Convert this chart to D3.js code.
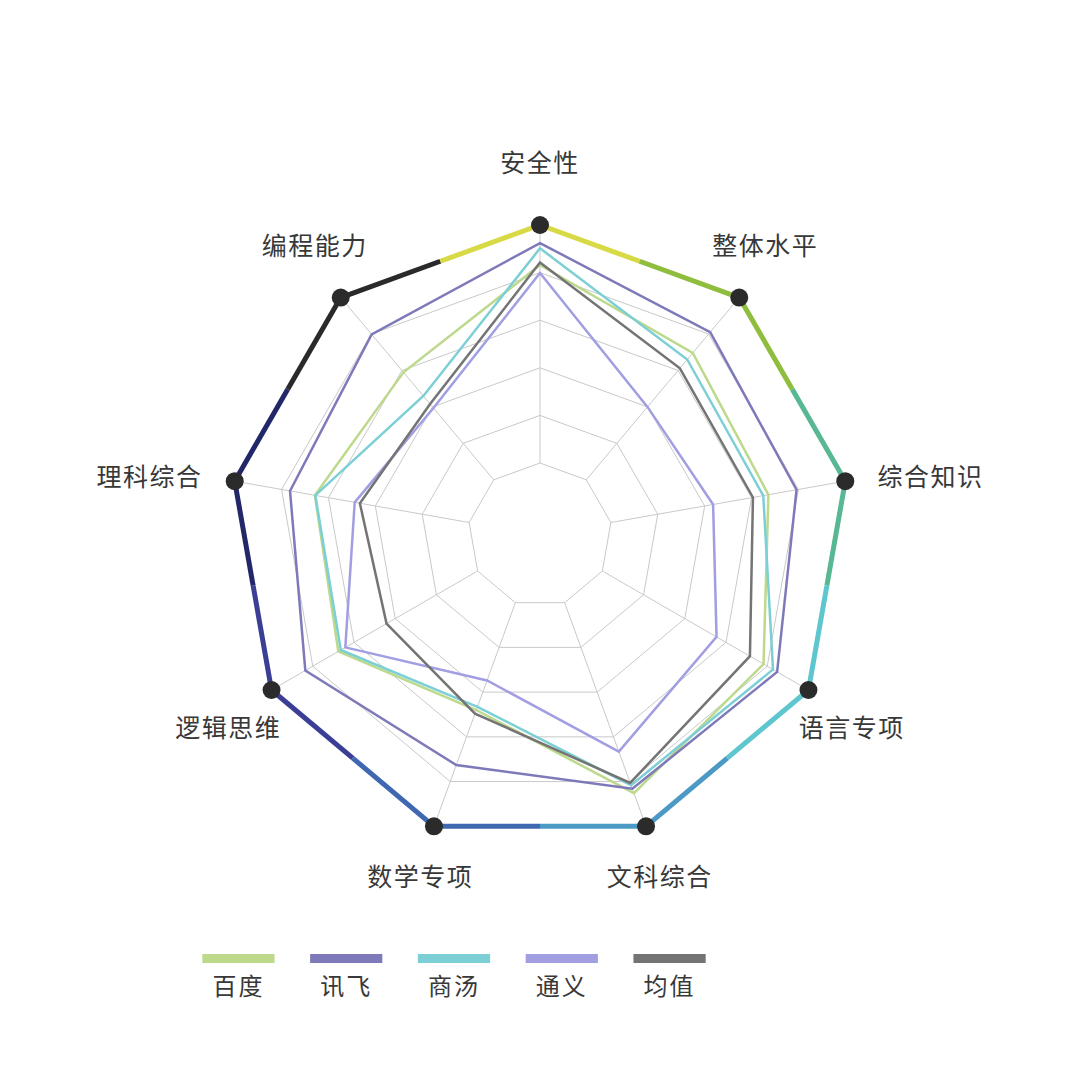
<!DOCTYPE html>
<html>
<head>
<meta charset="utf-8">
<script src="https://cdn.jsdelivr.net/npm/d3@7"></script>
<style>
  html, body { margin: 0; padding: 0; background: #fff; }
  text { font-family: "Noto Sans CJK SC", "Noto Sans", sans-serif; }
</style>
</head>
<body>
<div id="radarDiv"></div>
<script>
// axes, clockwise from top
var axes = ["安全性", "整体水平", "综合知识", "语言专项", "文科综合", "数学专项", "逻辑思维", "理科综合", "编程能力"];

// scores
var baidu   = [91.6, 84.8, 83.6, 89.1, 92.6, 74.0, 83.8, 82.9, 79.5];
var xunfei  = [96.2, 90.5, 89.6, 92.4, 91.6, 86.3, 91.8, 88.2, 89.9];
var shangtang = [95.1, 83.0, 82.5, 91.4, 90.8, 73.3, 83.2, 82.8, 73.0];
var tongyi  = [89.9, 70.0, 71.8, 77.7, 83.3, 67.4, 82.1, 74.4, 69.7];
var average = [92.1, 80.6, 80.3, 85.8, 90.3, 74.8, 72.1, 73.3, 70.8];

var seriesNames = ["百度", "讯飞", "商汤", "通义", "均值"];
var seriesValues = [baidu, xunfei, shangtang, tongyi, average];
var gridTicks = [50, 60, 70, 80, 90, 100];

var seriesColors = ["#bdd98b", "#7e7ab9", "#7dcfd6", "#a19ee2", "#747474"];
var rimColors = ["#d8da45", "#8fbd3e", "#57b893", "#5ec6cf", "#4b9ac6", "#4068b1", "#3a3f95", "#22276a", "#2a2a2a"];

function drawRadar(){
    var width = 1080, height = 1080;
    var cx = 540, cy = 535;

    var svg = d3.select("#radarDiv")
      .append("svg")
        .attr("width", width)
        .attr("height", height);

    var g = svg.append("g")
        .attr("transform", "translate(" + cx + "," + cy + ")");

    var r = d3.scaleLinear()
        .domain([50, 100])
        .range([72, 310]);

    var angle = d3.scaleLinear()
        .domain([0, axes.length])
        .range([-Math.PI / 2, 1.5 * Math.PI]);

    function pt(i, v){
        var a = angle(i);
        return [r(v) * Math.cos(a), r(v) * Math.sin(a)];
    }

    var line = d3.line();

    // grid rings (outer one is drawn coloured later)
    g.selectAll("path.ring")
      .data(gridTicks.slice(0, -1))
      .enter()
      .append("path")
        .attr("class", "ring")
        .attr("d", function(t){
            return line(axes.map(function(a, i){ return pt(i, t); })) + "Z";
        })
        .attr("fill", "none")
        .attr("stroke", "#c9c9c9")
        .attr("stroke-width", 1);

    // spokes
    g.selectAll("line.spoke")
      .data(axes)
      .enter()
      .append("line")
        .attr("class", "spoke")
        .attr("x1", function(d, i){ return pt(i, gridTicks[0])[0]; })
        .attr("y1", function(d, i){ return pt(i, gridTicks[0])[1]; })
        .attr("x2", function(d, i){ return pt(i, gridTicks[gridTicks.length - 1])[0]; })
        .attr("y2", function(d, i){ return pt(i, gridTicks[gridTicks.length - 1])[1]; })
        .attr("stroke", "#c9c9c9")
        .attr("stroke-width", 1);

    // series polygons
    g.selectAll("path.series")
      .data(seriesValues)
      .enter()
      .append("path")
        .attr("class", "series")
        .attr("d", function(vals){
            return line(vals.map(function(v, i){ return pt(i, v); })) + "Z";
        })
        .attr("fill", "none")
        .attr("stroke", function(d, i){ return seriesColors[i]; })
        .attr("stroke-width", 2.5)
        .attr("stroke-linejoin", "miter");

    // coloured rim: each edge split in halves, each half takes its vertex colour
    var top = gridTicks[gridTicks.length - 1];
    var halves = [];
    axes.forEach(function(a, i){
        var j = (i + 1) % axes.length;
        var p = pt(i, top), q = pt(j, top);
        var m = [(p[0] + q[0]) / 2, (p[1] + q[1]) / 2];
        halves.push({a: p, b: m, c: rimColors[i]});
        halves.push({a: m, b: q, c: rimColors[j]});
    });
    g.selectAll("line.rim")
      .data(halves)
      .enter()
      .append("line")
        .attr("class", "rim")
        .attr("x1", function(d){ return d.a[0]; })
        .attr("y1", function(d){ return d.a[1]; })
        .attr("x2", function(d){ return d.b[0]; })
        .attr("y2", function(d){ return d.b[1]; })
        .attr("stroke", function(d){ return d.c; })
        .attr("stroke-width", 5);

    // vertex dots
    g.selectAll("circle.dot")
      .data(axes)
      .enter()
      .append("circle")
        .attr("class", "dot")
        .attr("cx", function(d, i){ return pt(i, top)[0]; })
        .attr("cy", function(d, i){ return pt(i, top)[1]; })
        .attr("r", 9)
        .attr("fill", "#2b2b2b");

    // axis labels, pushed further out sideways for the horizontal ones
    function labelPos(i){
        var a = angle(i), c = Math.cos(a), s = Math.sin(a);
        var x = c * (350 + 56 * Math.pow(Math.abs(c), 12));
        var y = 386 * s - 7.5 * s * s - 19 * s * s * s + 8 * Math.pow(1 - s * s, 4);
        return [x, y];
    }
    g.selectAll("text.axis")
      .data(axes)
      .enter()
      .append("text")
        .attr("class", "axis")
        .attr("x", function(d, i){ return labelPos(i)[0]; })
        .attr("y", function(d, i){ return labelPos(i)[1]; })
        .attr("text-anchor", "middle")
        .attr("dominant-baseline", "central")
        .style("font-size", "25px")
        .style("fill", "#383838")
        .style("letter-spacing", "1.5px")
        .text(function(d){ return d; });

    // legend
    var lx = d3.scaleBand()
        .domain(seriesNames)
        .range([184, 724])
        .paddingInner(0.33)
        .paddingOuter(0.17);

    var legend = svg.append("g");
    legend.selectAll("rect")
      .data(seriesNames)
      .enter()
      .append("rect")
        .attr("x", function(d){ return lx(d); })
        .attr("y", 954)
        .attr("width", lx.bandwidth())
        .attr("height", 9)
        .attr("fill", function(d, i){ return seriesColors[i]; });

    legend.selectAll("text")
      .data(seriesNames)
      .enter()
      .append("text")
        .attr("x", function(d){ return lx(d) + lx.bandwidth() / 2; })
        .attr("y", 984)
        .attr("text-anchor", "middle")
        .attr("dominant-baseline", "central")
        .style("font-size", "24px")
        .style("fill", "#383838")
        .style("letter-spacing", "2px")
        .text(function(d){ return d; });
}

drawRadar();
</script>
</body>
</html>
